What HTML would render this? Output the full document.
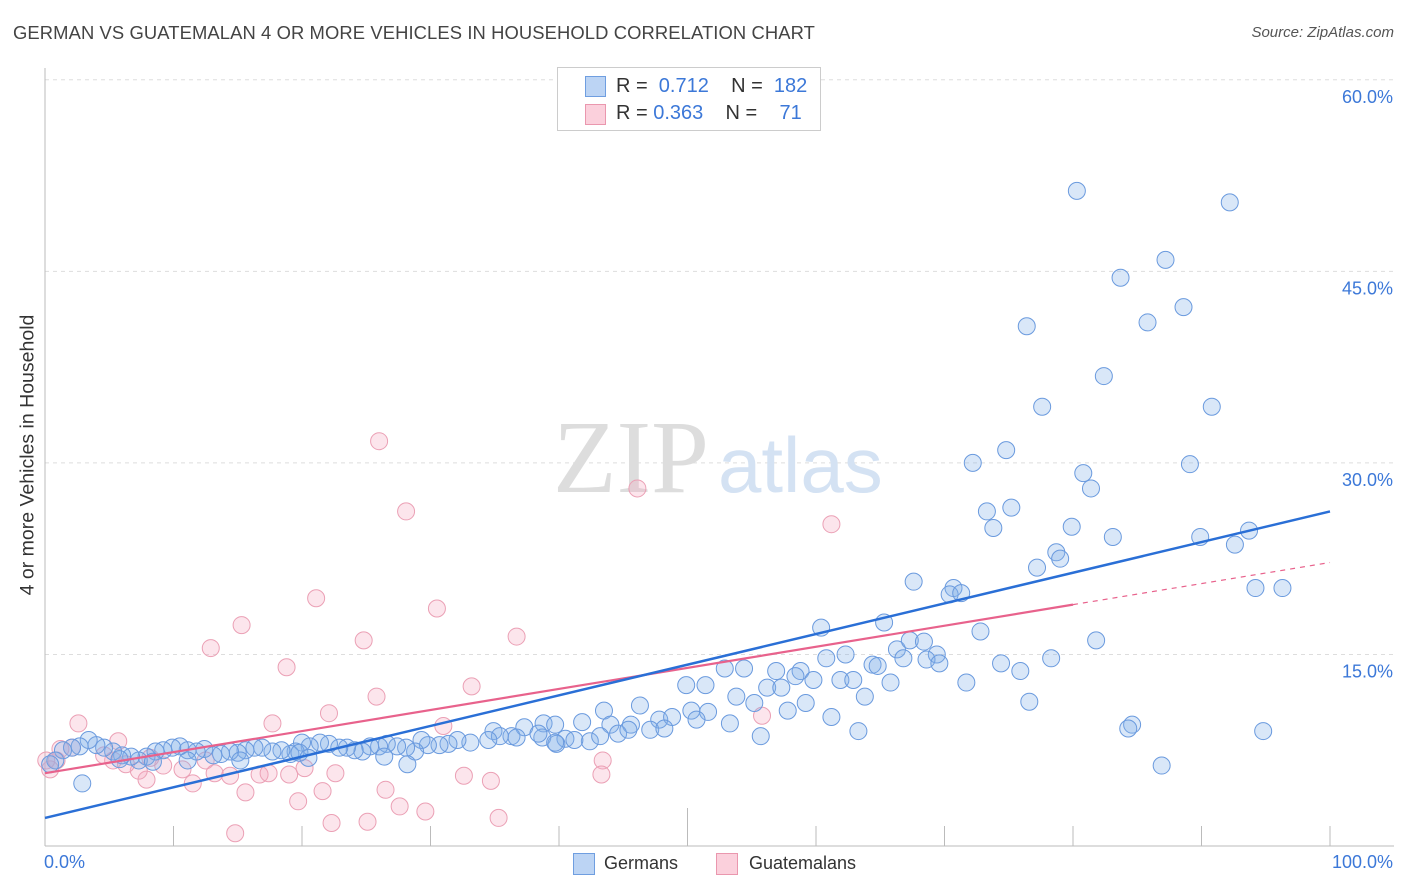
<!DOCTYPE html>
<html><head><meta charset="utf-8">
<style>
body{margin:0;background:#fff;font-family:"Liberation Sans",sans-serif;}
#wrap{position:relative;width:1406px;height:892px;overflow:hidden;}
.title{position:absolute;left:13px;top:22px;font-size:18.4px;color:#444;letter-spacing:0.1px}
.source{position:absolute;right:12px;top:24px;font-size:15px;color:#555;font-style:italic}
</style></head><body>
<div id="wrap">
<div class="title">GERMAN VS GUATEMALAN 4 OR MORE VEHICLES IN HOUSEHOLD CORRELATION CHART</div>
<div class="source">Source: ZipAtlas.com</div>
<svg id="svg" width="1406" height="892" style="position:absolute;left:0;top:0"></svg>
</div>
<script>
const germanX=[80.3,92.2,87.2,83.7,88.6,85.8,76.4,82.4,77.6,90.8,74.8,72.2,89.1,80.8,81.4,73.3,75.2,73.8,79.9,83.1,89.9,93.7,92.6,78.7,79.0,77.2,67.6,70.7,70.4,71.3,94.2,96.3,60.4,65.3,72.8,81.8,66.3,67.3,68.4,69.4,66.8,68.6,69.6,78.3,74.4,75.9,60.8,62.3,64.4,64.8,71.7,49.9,51.4,52.9,54.4,56.9,58.8,56.2,57.3,58.4,59.8,61.9,62.9,65.8,63.8,53.8,55.2,59.2,57.8,50.3,51.6,76.6,46.3,43.5,41.8,44.0,45.6,47.8,48.8,50.7,53.3,61.2,63.3,84.6,84.3,94.8,55.7,38.8,39.7,37.3,36.3,44.6,45.4,47.1,48.2,38.7,40.5,42.4,43.2,41.2,39.8,38.4,34.9,35.4,36.7,34.5,33.1,32.1,31.4,30.7,29.8,29.3,28.8,28.1,27.4,26.6,26.0,25.3,24.7,24.1,23.5,22.9,22.1,21.4,20.6,20.0,19.5,19.1,18.4,17.7,16.9,16.3,15.6,15.0,14.4,13.7,13.1,12.4,11.8,11.1,10.5,9.9,9.2,8.6,7.9,7.3,6.7,6.0,5.3,4.6,4.0,3.4,2.7,2.1,1.4,0.8,0.4,2.9,86.9,26.4,28.2,39.7,5.8,8.4,11.1,15.2,19.8,20.5];
const germanY=[51.3,50.4,45.9,44.5,42.2,41.0,40.7,36.8,34.4,34.4,31.0,30.0,29.9,29.2,28.0,26.2,26.5,24.9,25.0,24.2,24.2,24.7,23.6,23.0,22.5,21.8,20.7,20.2,19.7,19.8,20.2,20.2,17.1,17.5,16.8,16.1,15.4,16.1,16.0,15.0,14.7,14.6,14.3,14.7,14.3,13.7,14.7,15.0,14.2,14.1,12.8,12.6,12.6,13.9,13.9,13.7,13.7,12.4,12.4,13.3,13.0,13.0,13.0,12.8,11.7,11.7,11.2,11.2,10.6,10.6,10.5,11.3,11.0,10.6,9.7,9.5,9.5,9.9,10.1,9.9,9.6,10.1,9.0,9.5,9.2,9.0,8.6,9.6,9.5,9.3,8.6,8.8,9.1,9.1,9.2,8.5,8.4,8.2,8.6,8.3,8.0,8.8,9.0,8.6,8.5,8.3,8.1,8.3,8.0,7.9,7.9,8.3,7.4,7.7,7.8,8.0,7.8,7.8,7.4,7.5,7.7,7.7,8.0,8.1,7.8,8.1,7.4,7.2,7.5,7.4,7.7,7.7,7.5,7.3,7.4,7.2,7.1,7.6,7.4,7.5,7.8,7.7,7.5,7.4,7.0,6.7,7.0,7.1,7.4,7.7,7.9,8.3,7.8,7.7,7.5,6.7,6.4,4.9,6.3,7.0,6.4,8.1,6.8,6.6,6.7,6.7,7.3,6.9];
const guatX=[26.0,46.1,28.1,61.2,21.1,30.5,15.3,36.7,24.8,12.9,18.8,33.2,25.8,17.7,22.1,31.0,55.8,43.4,43.3,32.6,34.7,22.6,19.0,15.6,19.7,21.6,26.5,27.6,29.6,22.3,25.1,14.8,35.3,14.4,16.7,17.4,20.2,11.5,7.9,7.3,5.3,4.6,2.6,2.1,1.2,0.9,0.4,5.7,10.7,9.2,12.5,13.2,8.2,6.3,0.1];
const guatY=[31.7,28.0,26.2,25.2,19.4,18.6,17.3,16.4,16.1,15.5,14.0,12.5,11.7,9.6,10.4,9.4,10.2,6.7,5.6,5.5,5.1,5.7,5.6,4.2,3.5,4.3,4.4,3.1,2.7,1.8,1.9,1.0,2.2,5.5,5.6,5.7,6.1,4.9,5.2,5.9,6.7,7.1,9.6,7.7,7.6,6.7,6.0,8.2,6.0,6.3,6.7,5.7,6.9,6.4,6.7];
const germanFit=[2.2,26.2];   // y at x=0 and x=100
const guatFit=[5.7,22.2];
const guatSolidEnd=80;
const yTicks=[15,30,45,60];
const yTickLabels=["15.0%","30.0%","45.0%","60.0%"];

const X0=45,X1=1330,Y0=846,PXY=12.77;
const sx=v=>X0+(X1-X0)*v/100;
const sy=v=>Y0-v*PXY;
const NS="http://www.w3.org/2000/svg";
const svg=document.getElementById('svg');
function mk(t,a,p){const e=document.createElementNS(NS,t);for(const k in a)e.setAttribute(k,a[k]);(p||svg).appendChild(e);return e;}

yTicks.forEach((t,i)=>{
  const g=mk('line',{x1:X0,x2:1394,y1:sy(t),y2:sy(t),stroke:'#ddd','stroke-dasharray':'4,4'});
  
  
  const l=mk('text',{x:1393,y:sy(t)+23,'text-anchor':'end','font-size':18,fill:'#3c78d8','font-family':'Liberation Sans, sans-serif'});
  l.textContent=yTickLabels[i];
  
  
});
const ya=mk('line',{x1:X0,x2:X0,y1:68,y2:Y0,stroke:'#bbb'});


const xa=mk('line',{x1:X0,x2:1394,y1:Y0,y2:Y0,stroke:'#bbb'});


for(let i=1;i<=10;i++){
  const t=mk('line',{x1:sx(i*10),x2:sx(i*10),y1:(i==5?808:826),y2:Y0,stroke:'#bbb'});
  
  
}
const wm=mk('text',{x:553,y:492,'font-size':104,fill:'#ddd','font-family':'Liberation Serif, serif'});wm.textContent='ZIP';


const wm2=mk('text',{x:718,y:492,'font-size':78,fill:'#d4e2f3','font-family':'Liberation Sans, sans-serif'});wm2.textContent='atlas';



guatX.forEach((x,i)=>{
  const c=mk('circle',{cx:sx(x),cy:sy(guatY[i]),r:8.5,fill:'rgba(244,170,192,0.3)',stroke:'#eba0b5','stroke-width':1});
  
  
});
germanX.forEach((x,i)=>{
  const c=mk('circle',{cx:sx(x),cy:sy(germanY[i]),r:8.5,fill:'rgba(130,175,232,0.3)',stroke:'#6a9ade','stroke-width':1});
  
  
});
const gf=v=>guatFit[0]+(guatFit[1]-guatFit[0])*v/100;
const l1=mk('line',{x1:sx(0),y1:sy(gf(0)),x2:sx(guatSolidEnd),y2:sy(gf(guatSolidEnd)),stroke:'#e8628c','stroke-width':2.2});


const l2=mk('line',{x1:sx(guatSolidEnd),y1:sy(gf(guatSolidEnd)),x2:sx(100),y2:sy(gf(100)),stroke:'#e8628c','stroke-width':1.2,'stroke-dasharray':'5,5'});


const l3=mk('line',{x1:sx(0),y1:sy(germanFit[0]),x2:sx(100),y2:sy(germanFit[1]),stroke:'#2a6fd6','stroke-width':2.5});


</script>
<div style="position:absolute;left:557px;top:67px;width:262px;height:62px;border:1px solid #ccc;background:#fff;font-size:20px;color:#333">
 <div style="position:absolute;left:27px;top:8px;width:19px;height:19px;background:#bcd4f4;border:1px solid #6f9ee0"></div>
 <div style="position:absolute;left:58px;top:7px">R = &nbsp;<span style="color:#3c78d8">0.712</span>&nbsp;&nbsp;&nbsp; N = &nbsp;<span style="color:#3c78d8">182</span></div>
 <div style="position:absolute;left:27px;top:36px;width:19px;height:19px;background:#fbd0dc;border:1px solid #ea97ae"></div>
 <div style="position:absolute;left:58px;top:34px">R = <span style="color:#3c78d8">0.363</span>&nbsp;&nbsp;&nbsp; N = &nbsp;&nbsp;&nbsp;<span style="color:#3c78d8">71</span></div>
</div>
<div style="position:absolute;left:44px;top:852px;font-size:18px;color:#3c78d8">0.0%</div>
<div style="position:absolute;right:13px;top:852px;font-size:18px;color:#3c78d8">100.0%</div>
<div style="position:absolute;top:455px;transform:translate(-50%,-50%) rotate(-90deg);left:28px;font-size:19.5px;color:#333;white-space:nowrap">4 or more Vehicles in Household</div>
<div style="position:absolute;left:573px;top:853px;width:20px;height:20px;background:#bcd4f4;border:1px solid #6f9ee0"></div>
<div style="position:absolute;left:604px;top:853px;font-size:18px;color:#333">Germans</div>
<div style="position:absolute;left:716px;top:853px;width:20px;height:20px;background:#fbd0dc;border:1px solid #ea97ae"></div>
<div style="position:absolute;left:749px;top:853px;font-size:18px;color:#333">Guatemalans</div>
</body></html>
